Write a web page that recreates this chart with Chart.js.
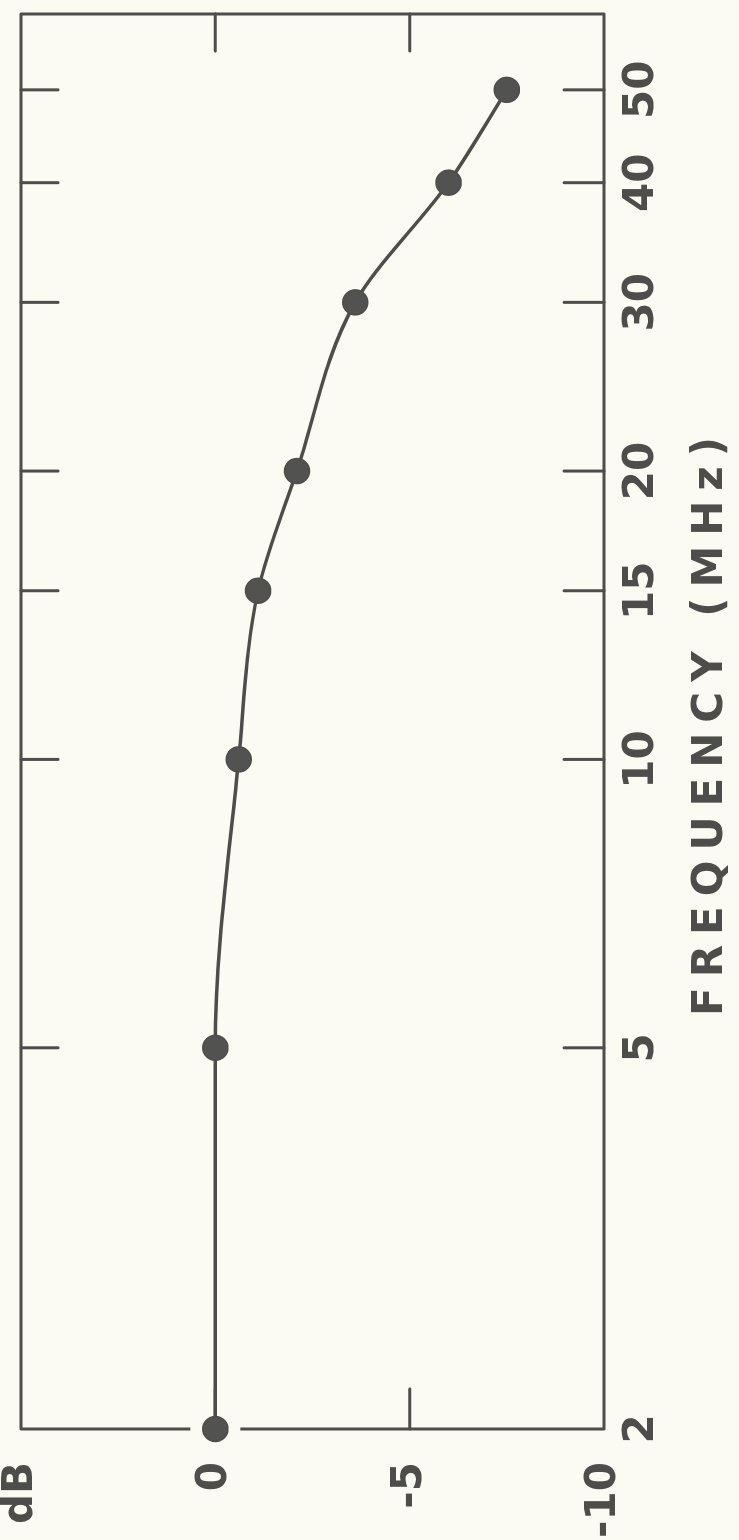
<!DOCTYPE html>
<html>
<head>
<meta charset="utf-8">
<script src="https://cdn.jsdelivr.net/npm/chart.js@4.4.0/dist/chart.umd.min.js"></script>
<style>
html,body{margin:0;padding:0;width:739px;height:1540px;overflow:hidden;background:#fbfbf3;}
#wrap{position:absolute;left:0;top:0;width:1540px;height:739px;transform-origin:0 0;transform:translateY(1540px) rotate(-90deg);}
canvas{display:block;}
</style>
</head>
<body>
<div id="wrap"><canvas id="c" width="1540" height="739"></canvas></div>
<script>
// ---- data ----
const freqMHz = [2, 5, 10, 15, 20, 30, 40, 50];
const gainDb = [0, 0, -0.6, -1.1, -2.1, -3.6, -6.0, -7.5];
const freqTicks = [2, 5, 10, 15, 20, 30, 40, 50];
const dbTicks = [-10, -5, 0, 5];
const dbTickLabels = ['-10', '-5', '0', 'dB'];
const dbInnerTicks = [-5, 0];
const xTitle = 'FREQUENCY (MHz)';

const INK = '#4d4d4b';
const BG = '#fbfbf3';
const FONT = '"DejaVu Sans", sans-serif';

const framePlugin = {
  id: 'frame',
  beforeDatasetsDraw(chart) {
    const {ctx, chartArea: a, scales: {x, y}} = chart;
    ctx.save();
    ctx.strokeStyle = INK;
    ctx.lineWidth = 3;
    ctx.lineCap = 'round';
    ctx.lineJoin = 'round';
    ctx.strokeRect(a.left, a.top, a.right - a.left, a.bottom - a.top);
    const line = (x1, y1, x2, y2) => { ctx.beginPath(); ctx.moveTo(x1, y1); ctx.lineTo(x2, y2); ctx.stroke(); };
    for (const f of freqTicks) {
      if (f === x.min) continue;
      const px = x.getPixelForValue(f);
      line(px, a.top, px, a.top + 37);
      line(px, a.bottom, px, a.bottom - 40);
    }
    for (const d of dbInnerTicks) {
      const py = y.getPixelForValue(d);
      line(a.left, py, a.left + 40, py);
      line(a.right, py, a.right - 37, py);
    }
    // small clear gap in the frame around the first data point
    const gx = x.getPixelForValue(freqMHz[0]);
    const gy = y.getPixelForValue(gainDb[0]);
    ctx.fillStyle = BG;
    ctx.fillRect(gx - 4, gy - 25, 8, 50);
    ctx.restore();
  }
};

const spacingPlugin = {
  id: 'titleSpacing',
  afterLayout(chart) {
    const s = chart.scales.x;
    if (!s.__wrapped) {
      const orig = s.drawTitle;
      s.drawTitle = function () {
        const c = this.ctx;
        const prev = c.letterSpacing;
        c.letterSpacing = '10px';
        orig.call(this);
        c.letterSpacing = prev || '0px';
      };
      s.__wrapped = true;
    }
  }
};

new Chart(document.getElementById('c'), {
  type: 'line',
  data: {
    datasets: [{
      data: freqMHz.map((f, i) => ({x: f, y: gainDb[i]})),
      borderColor: INK,
      borderWidth: 3.5,
      backgroundColor: '#525250',
      pointBackgroundColor: '#525250',
      pointBorderColor: INK,
      pointBorderWidth: 1.5,
      pointRadius: 12.5,
      cubicInterpolationMode: 'monotone',
      clip: false,
      fill: false
    }]
  },
  options: {
    responsive: false,
    devicePixelRatio: 1,
    animation: false,
    events: [],
    layout: {padding: {top: 21, right: 9, left: 0, bottom: 0}},
    plugins: {legend: {display: false}, tooltip: {enabled: false}},
    scales: {
      x: {
        type: 'logarithmic',
        position: 'bottom',
        min: 2,
        max: 60,
        bounds: 'data',
        grid: {display: false, drawTicks: false},
        border: {display: false},
        afterBuildTicks: (s) => { s.ticks = freqTicks.map(v => ({value: v})); },
        afterFit: (s) => { s.height = 135; s.paddingLeft = 0; s.paddingRight = 0; },
        ticks: {
          autoSkip: false,
          maxRotation: 0,
          padding: 13,
          color: INK,
          font: {family: FONT, size: 42, weight: 'bold'},
          callback: (v) => String(v)
        },
        title: {
          display: true,
          text: xTitle,
          color: INK,
          font: {family: FONT, size: 42, weight: 'bold'},
          padding: {top: 0, bottom: 3}
        }
      },
      y: {
        type: 'linear',
        position: 'left',
        min: -10,
        max: 5,
        grid: {display: false, drawTicks: false},
        border: {display: false},
        afterBuildTicks: (s) => { s.ticks = dbTicks.map(v => ({value: v})); },
        afterFit: (s) => { s.width = 111; s.paddingTop = 0; s.paddingBottom = 0; },
        ticks: {
          autoSkip: false,
          padding: 33,
          color: INK,
          font: {family: FONT, size: 42, weight: 'bold'},
          callback: (v) => dbTickLabels[dbTicks.indexOf(v)]
        }
      }
    }
  },
  plugins: [framePlugin, spacingPlugin]
});
</script>
</body>
</html>
